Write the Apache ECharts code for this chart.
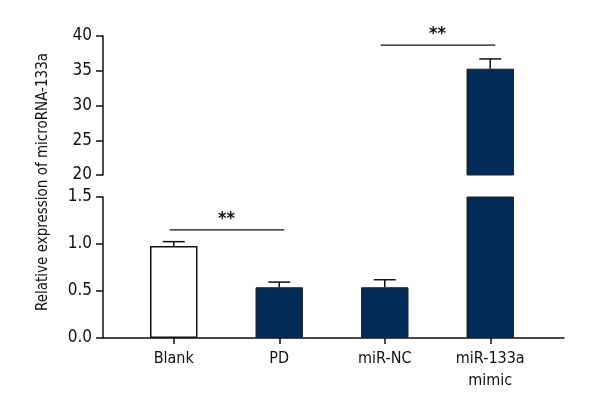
<!DOCTYPE html>
<html>
<head>
<meta charset="utf-8">
<script src="https://cdn.jsdelivr.net/npm/echarts@6/dist/echarts.min.js"></script>
<style>
  html, body { margin: 0; padding: 0; background: #fff; }
  #chart { width: 600px; height: 420px; }
</style>
</head>
<body>
<div id="chart"></div>
<script>
// data
const categories = ['Blank', 'PD', 'miR-NC', 'miR-133a\nmimic']
const values = [0.98, 0.54, 0.54, 35.3]
const errors = [0.045, 0.055, 0.08, 1.4]
const upperTicks = [20, 25, 30, 35, 40]
const lowerTicks = [0, 0.5, 1.0, 1.5]
// significance brackets: [from index, to index, bracket height]
const sigLower = [[0, 1, 1.15]]
const sigUpper = [[2, 3, 38.7]]
const sigLabel = '**'

const FONT = '"Liberation Sans Narrow", "DejaVu Sans Condensed", "Roboto", sans-serif'
const NAVY = '#022b58'
const BREAK = 20 // lowest value of upper segment
const LOW_MAX = 1.5

const chart = echarts.init(document.getElementById('chart'))

const barColors = values.map((v, i) => (i === 0 ? '#ffffff' : NAVY))

// error bar: stem + cap, only upwards
const errRender = (params, api) => {
  const x = api.value(0)
  const v = api.value(1)
  const e = api.value(2)
  const p0 = api.coord([x, v])
  const p1 = api.coord([x, v + e])
  const half = 11
  const style = { stroke: '#111', lineWidth: 1.5 }
  return {
    type: 'group',
    children: [
      { type: 'line', shape: { x1: p0[0], y1: p0[1], x2: p1[0], y2: p1[1] }, style },
      { type: 'line', shape: { x1: p1[0] - half, y1: p1[1], x2: p1[0] + half, y2: p1[1] }, style },
    ],
  }
}

const sigRender = (params, api) => {
  const a = api.coord([api.value(0), api.value(2)])
  const b = api.coord([api.value(1), api.value(2)])
  return {
    type: 'group',
    children: [
      { type: 'line', shape: { x1: a[0] - 4, y1: a[1], x2: b[0] + 5, y2: b[1] }, style: { stroke: '#111', lineWidth: 1.2 } },
      {
        type: 'text',
        style: {
          text: sigLabel,
          x: (a[0] + b[0]) / 2,
          y: a[1] - 2,
          align: 'center',
          verticalAlign: 'bottom',
          font: 'bold 18px ' + FONT,
          fill: '#111',
        },
      },
    ],
  }
}

const yCommon = {
  type: 'value',
  offset: 18,
  axisLine: { show: true, lineStyle: { color: '#111', width: 1.5 } },
  axisTick: { show: true, length: 7, lineStyle: { color: '#111', width: 1.5 } },
  splitLine: { show: false },
  axisLabel: { color: '#111', fontSize: 17, fontFamily: FONT, margin: 11 },
}

const option = {
  animation: false,
  grid: [
    { left: 121, width: 422, top: 36, height: 139 },
    { left: 121, width: 422, top: 197, height: 141 },
    { left: 103, right: 36, top: 197, height: 141 },
  ],
  xAxis: [
    { gridIndex: 0, type: 'category', data: categories, show: false },
    {
      gridIndex: 1,
      type: 'category',
      data: categories,
      axisLine: { show: false },
      axisTick: { show: true, alignWithLabel: true, length: 6, lineStyle: { color: '#111', width: 1.5 } },
      axisLabel: { color: '#111', fontSize: 16, fontFamily: FONT, margin: 10, lineHeight: 22 },
    },
    {
      gridIndex: 2,
      type: 'value',
      min: 0,
      max: 1,
      axisLine: { show: true, lineStyle: { color: '#111', width: 1.5 } },
      axisTick: { show: false },
      axisLabel: { show: false },
      splitLine: { show: false },
    },
  ],
  yAxis: [
    Object.assign({}, yCommon, { gridIndex: 0, min: upperTicks[0], max: upperTicks[upperTicks.length - 1], interval: 5 }),
    Object.assign({}, yCommon, {
      gridIndex: 1,
      min: lowerTicks[0],
      max: lowerTicks[lowerTicks.length - 1],
      interval: 0.5,
      axisLabel: Object.assign({}, yCommon.axisLabel, { formatter: (v) => v.toFixed(1) }),
    }),
    { gridIndex: 2, type: 'value', show: false },
  ],
  graphic: [
    {
      type: 'text',
      x: 43,
      y: 182,
      rotation: Math.PI / 2,
      style: {
        text: 'Relative expression of microRNA-133a',
        font: '15px ' + FONT,
        fill: '#111',
        align: 'center',
        verticalAlign: 'middle',
      },
    },
  ],
  series: [
    {
      type: 'bar',
      xAxisIndex: 0,
      yAxisIndex: 0,
      barWidth: '45%',
      data: values.map((v, i) => (v >= BREAK ? { value: v, itemStyle: { color: barColors[i] } } : '-')),
      itemStyle: { borderColor: '#222', borderWidth: 1 },
    },
    {
      type: 'bar',
      xAxisIndex: 1,
      yAxisIndex: 1,
      barWidth: '45%',
      data: values.map((v, i) => ({
        value: v,
        itemStyle: { color: barColors[i], borderColor: i === 0 ? '#111' : '#222', borderWidth: i === 0 ? 1.5 : 1 },
      })),
    },
    {
      type: 'custom',
      xAxisIndex: 0,
      yAxisIndex: 0,
      renderItem: errRender,
      encode: { x: 0, y: 1 },
      data: values.map((v, i) => [i, v, errors[i]]).filter((d) => d[1] >= BREAK),
      z: 3,
    },
    {
      type: 'custom',
      xAxisIndex: 1,
      yAxisIndex: 1,
      renderItem: errRender,
      encode: { x: 0, y: 1 },
      data: values.map((v, i) => [i, v, errors[i]]).filter((d) => d[1] < LOW_MAX),
      z: 3,
    },
    {
      type: 'custom',
      xAxisIndex: 1,
      yAxisIndex: 1,
      renderItem: sigRender,
      encode: { x: 0, y: 2 },
      clip: false,
      data: sigLower.map((s) => [s[0], s[1], s[2]]),
      z: 4,
    },
    {
      type: 'custom',
      xAxisIndex: 0,
      yAxisIndex: 0,
      renderItem: sigRender,
      encode: { x: 0, y: 2 },
      clip: false,
      data: sigUpper.map((s) => [s[0], s[1], s[2]]),
      z: 4,
    },
  ],
}

chart.setOption(option)
</script>
</body>
</html>
